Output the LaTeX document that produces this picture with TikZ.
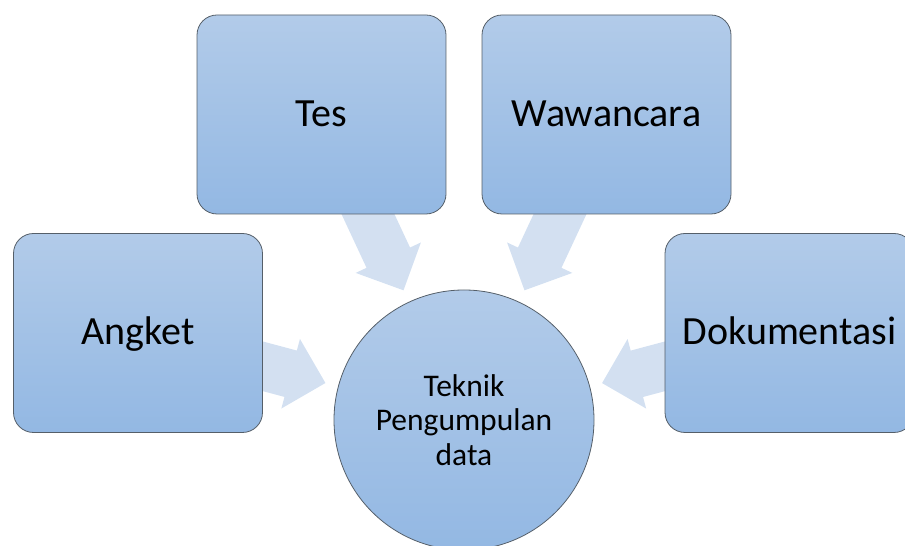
\documentclass[tikz,border=0pt]{standalone}
\usepackage{fontspec}
\setmainfont{Carlito}
\usetikzlibrary{backgrounds}
\definecolor{boxtop}{RGB}{178,203,233}
\definecolor{boxbottom}{RGB}{147,184,227}
\definecolor{flowblue}{RGB}{211,224,241}
\definecolor{edgegray}{RGB}{85,95,105}

% Block arrow from one node towards another, in local coordinates (pt).
\def\flowshape{(0,-24)--(158,-24)--(158,-36)--(194,0)--(158,36)--(158,24)--(0,24)--cycle}
\newcommand\flowarrow[2]{%
  \pgfmathanglebetweenpoints{\pgfpointanchor{#1}{center}}{\pgfpointanchor{#2}{center}}%
  \let\flowangle\pgfmathresult
  \fill[flow, shift={(#1.center)}, rotate=\flowangle] \flowshape;}

\begin{document}
\begin{tikzpicture}[
  x=1pt, y=1pt,
  method/.style={draw=edgegray, line width=0.8pt, rounded corners=20pt,
    top color=boxtop, bottom color=boxbottom,
    minimum width=249pt, minimum height=199pt, inner sep=0pt,
    font=\fontsize{40}{48}\selectfont, text height=24pt, text depth=0pt},
  hub/.style={circle, draw=edgegray, line width=0.8pt,
    top color=boxtop, bottom color=boxbottom,
    minimum size=260pt, inner sep=0pt, align=center,
    font=\fontsize{31.5}{34.5}\selectfont},
  flow/.style={fill=flowblue, draw=none},
]
\clip (0,0) rectangle (905,546);

% -------------------------------------------------------------------------
% Centre and the four collection methods.
% -------------------------------------------------------------------------
\node[hub] (hub) at (464,126) {Teknik\\Pengumpulan\\data};

\node[method] (tes)    at (321.5,431.5) {Tes};
\node[method] (waw)    at (606.5,431.5) {Wawancara};
\node[method] (angket) at (138,213)     {Angket};
\node[method] (doku)   at (789.5,213)   {Dokumentasi};

% Arrows run behind the boxes, from each box centre towards the hub.
\begin{scope}[on background layer]
  \flowarrow{tes}{hub}
  \flowarrow{waw}{hub}
  \flowarrow{angket}{hub}
  \flowarrow{doku}{hub}
\end{scope}

\end{tikzpicture}
\end{document}
